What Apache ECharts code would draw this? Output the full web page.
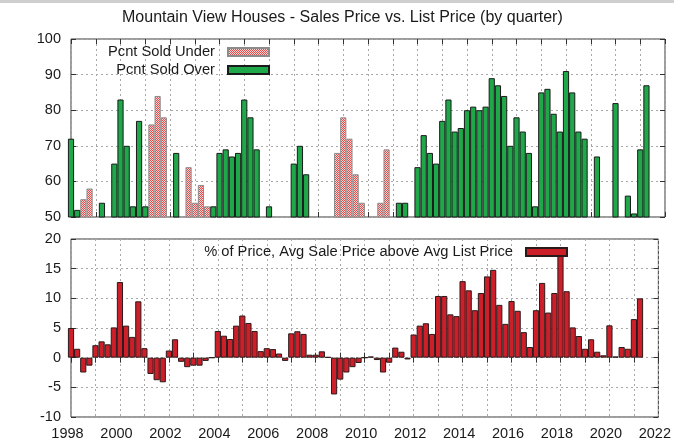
<!DOCTYPE html>
<html><head><meta charset="utf-8">
<script src="https://cdn.jsdelivr.net/npm/echarts@6/dist/echarts.min.js"></script>
<style>html,body{margin:0;padding:0;background:#fff}#c{width:674px;height:444px}</style>
</head><body><div id="c"></div>
<script>
// Quarters: first quarter of 1998 onward, one value per quarter (index 0 = 1998 Q1)
const firstYear = 1998;
const quartersPerYear = 4;
const xTickYears = [1998, 2000, 2002, 2004, 2006, 2008, 2010, 2012, 2014, 2016, 2018, 2020, 2022];
const topTicks = [50, 60, 70, 80, 90, 100];
const bottomTicks = [-10, -5, 0, 5, 10, 15, 20];

// Percent of houses sold over list price (green)
const pctSoldOver = [
  72, 52, null, null, null, 54, null, 65, 83, 70,
  53, 77, 53, null, null, null, null, 68, null, null,
  null, null, null, 53, 68, 69, 67, 68, 83, 78,
  69, null, 53, null, null, null, 65, 70, 62, null,
  null, null, null, null, null, null, null, null, null, null,
  null, null, null, 54, 54, null, 64, 73, 68, 65,
  77, 83, 74, 75, 80, 81, 80, 81, 89, 87,
  84, 70, 78, 74, 68, 53, 85, 86, 79, 74,
  91, 85, 74, 72, null, 67, null, null, 82, null,
  56, 51, 69, 87
];
// Percent of houses sold under list price (pink)
const pctSoldUnder = [
  null, null, 55, 58, null, null, null, null, null, null,
  null, null, null, 76, 84, 78, null, null, null, 64,
  54, 59, 53, null, null, null, null, null, null, null,
  null, null, null, null, null, null, null, null, null, null,
  null, null, null, 68, 78, 72, 62, 54, null, null,
  54, 69, null, null, null, null, null, null, null, null,
  null, null, null, null, null, null, null, null, null, null,
  null, null, null, null, null, null, null, null, null, null,
  null, null, null, null, null, null, null, null, null, null,
  null, null, null, null
];
// % avg sale price above avg list price (red)
const pctAbove = [
  5.0, 1.5, -2.5, -1.35, 2.1, 2.75, 2.25, 5.1, 12.75, 5.4,
  3.5, 9.5, 1.6, -2.75, -3.8, -4.15, 1.2, 3.1, -0.7, -1.6,
  -1.35, -1.35, -0.55, 0, 4.5, 3.7, 3.15, 5.4, 7.1, 5.85,
  4.5, 1.1, 1.6, 1.45, 0.7, -0.55, 4.1, 4.45, 4.0, 0.5,
  0.5, 1.07, 0.1, -6.2, -3.7, -2.5, -1.6, -0.9, 0, 0.2,
  -0.4, -2.5, -0.85, 1.7, 1.0, -0.3, 3.9, 5.4, 5.8, 4.0,
  10.4, 10.4, 7.3, 7.0, 12.9, 11.35, 8.0, 10.9, 13.7, 14.8,
  8.9, 5.7, 9.55, 7.9, 4.3, 1.8, 8.0, 12.6, 7.6, 10.9,
  18.0, 11.2, 5.1, 3.65, 1.5, 3.1, 1.0, 0.4, 5.45, 0.2,
  1.8, 1.5, 6.5, 10.0
];

const FONT = "'Liberation Sans', Arial, sans-serif";
const TXT = '#1a1a1a';
const GRID_L = 71, GRID_R = 9, PANEL_H = 178;
const plotW = 674 - GRID_L - GRID_R;
const xMin = xTickYears[0], xMax = xTickYears[xTickYears.length - 1];
const quarterPx = plotW / (xMax - xMin) / quartersPerYear;

function toPoints(arr) {
  const out = [];
  arr.forEach((v, i) => { if (v !== null) out.push([firstYear + i / quartersPerYear, v]); });
  return out;
}

// pink checkered pattern
const pc = document.createElement('canvas');
pc.width = 2; pc.height = 2;
const g = pc.getContext('2d');
g.fillStyle = '#fad2d2'; g.fillRect(0, 0, 2, 2);
g.fillStyle = '#dc5050'; g.fillRect(0, 0, 1, 1); g.fillRect(1, 1, 1, 1);

const splitLine = { show: true, lineStyle: { color: '#a8a8a8', type: [2, 3], width: 1 } };
const tick = { show: true, inside: true, length: 5, lineStyle: { color: '#333' } };

function xAx(grid, pos, labels) {
  return {
    type: 'value', gridIndex: grid, position: pos, min: xMin, max: xMax, interval: 1,
    axisLine: { show: false }, axisTick: tick,
    splitLine: pos === 'bottom' ? splitLine : { show: false },
    axisLabel: labels ? {
      show: true, color: TXT, fontSize: 14.5, fontFamily: FONT, margin: 9, padding: [0, 7, 0, 0],
      formatter: v => (xTickYears.indexOf(v) >= 0 ? String(v) : '')
    } : { show: false }
  };
}
function yAx(grid, pos, ticks, labels) {
  return {
    type: 'value', gridIndex: grid, position: pos, min: ticks[0], max: ticks[ticks.length - 1],
    interval: ticks[1] - ticks[0],
    axisLine: { show: false }, axisTick: tick,
    splitLine: pos === 'left' ? splitLine : { show: false },
    axisLabel: labels ? { show: true, color: TXT, fontSize: 14.5, fontFamily: FONT, margin: 10 } : { show: false }
  };
}

const legendText = { color: TXT, fontSize: 14.7, fontFamily: FONT, padding: [0, 8, 0, 0], lineHeight: 16 };
function legend(name, right, top) {
  return { data: [name], right: right, top: top, align: 'right', icon: 'rect', itemWidth: 41, itemHeight: 8,
    textStyle: legendText, selectedMode: false, padding: 0 };
}

const chart = echarts.init(document.getElementById('c'), null, { renderer: 'canvas' });
chart.setOption({
  animation: false,
  backgroundColor: '#ffffff',
  title: {
    text: 'Mountain View Houses - Sales Price vs. List Price (by quarter)',
    left: 122, top: 10, padding: 0,
    textStyle: { fontSize: 16, fontWeight: 'normal', color: TXT, fontFamily: FONT }
  },
  graphic: [{ type: 'rect', shape: { x: 0, y: 0, width: 674, height: 3 }, style: { fill: '#cfcfcf' }, silent: true }],
  legend: [
    legend('Pcnt Sold Under', 404, 44),
    legend('Pcnt Sold Over', 404, 62),
    legend('% of Price, Avg Sale Price above Avg List Price', 106, 244)
  ],
  grid: [
    { left: GRID_L, right: GRID_R, top: 39, height: PANEL_H, show: true, borderColor: '#3a3a3a', borderWidth: 1, backgroundColor: 'transparent' },
    { left: GRID_L, right: GRID_R, top: 239, height: PANEL_H, show: true, borderColor: '#3a3a3a', borderWidth: 1, backgroundColor: 'transparent' }
  ],
  xAxis: [xAx(0, 'bottom', false), xAx(0, 'top', false), xAx(1, 'bottom', true), xAx(1, 'top', false)],
  yAxis: [yAx(0, 'left', topTicks, true), yAx(0, 'right', topTicks, false),
          yAx(1, 'left', bottomTicks, true), yAx(1, 'right', bottomTicks, false)],
  series: [
    { name: 'Pcnt Sold Under', type: 'bar', xAxisIndex: 0, yAxisIndex: 0, data: toPoints(pctSoldUnder),
      barWidth: quarterPx, barGap: '-100%',
      itemStyle: { color: { image: pc, repeat: 'repeat' }, borderColor: '#8c8c8c', borderWidth: 1 } },
    { name: 'Pcnt Sold Over', type: 'bar', xAxisIndex: 0, yAxisIndex: 0, data: toPoints(pctSoldOver),
      barWidth: quarterPx, barGap: '-100%',
      itemStyle: { color: '#1fa84a', borderColor: '#1a1a1a', borderWidth: 1 } },
    { name: '% of Price, Avg Sale Price above Avg List Price', type: 'bar', xAxisIndex: 2, yAxisIndex: 2,
      data: toPoints(pctAbove), barWidth: quarterPx,
      itemStyle: { color: '#cc1f2a', borderColor: '#2a1a1a', borderWidth: 1 } }
  ]
});
</script></body></html>
